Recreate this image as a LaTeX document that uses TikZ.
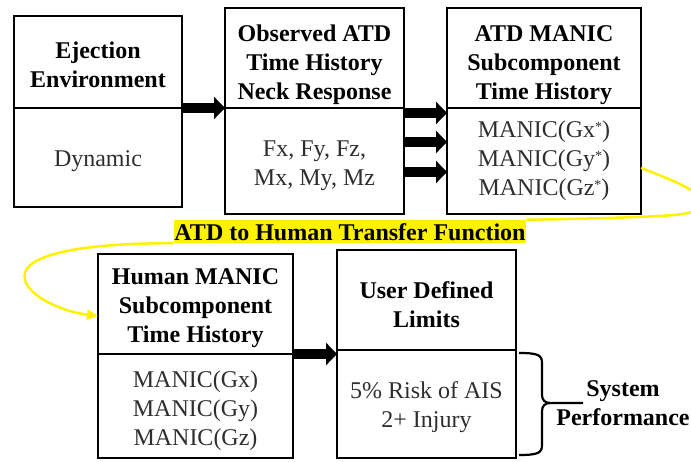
\documentclass[tikz,border=0pt]{standalone}
\usepackage{fontspec}
\setmainfont{Liberation Serif}
\usetikzlibrary{arrows.meta}
% small raised asterisk used in the ATD subcomponent names
\newcommand\starmark{\raisebox{6pt}{\fontsize{14}{14}\selectfont *}}
\begin{document}
\begin{tikzpicture}[x=1pt,y=-1pt,
  frame/.style={draw, line width=2.5pt, inner sep=0pt, outer sep=0pt},
  hd/.style={anchor=north, align=center, inner sep=0pt,
    font=\fontsize{24}{29}\selectfont\bfseries},
  bd/.style={anchor=north, align=center, inner sep=0pt, text=black!82,
    font=\fontsize{24}{29}\selectfont},
  fat/.style={line width=10pt, -{Triangle[width=22pt,length=11pt]}},
  ycurve/.style={draw=yellow, line width=2.5pt}]
\useasboundingbox (0,0) rectangle (691,462);
\clip (0,0) rectangle (691,462);

% ---- top row: section frames ----
\node[frame, minimum width=168pt, minimum height=92pt]  (ej-t)  at (98,62) {};
\node[frame, minimum width=168pt, minimum height=99pt]  (ej-b)  at (98,157.5) {};
\node[frame, minimum width=179pt, minimum height=100pt] (obs-t) at (314.5,58) {};
\node[frame, minimum width=179pt, minimum height=106pt] (obs-b) at (314.5,161) {};
\node[frame, minimum width=194pt, minimum height=100pt] (atd-t) at (544,58) {};
\node[frame, minimum width=194pt, minimum height=106pt] (atd-b) at (544,161) {};

% ---- bottom row: section frames ----
\node[frame, minimum width=195pt, minimum height=100pt] (hum-t) at (195.5,304) {};
\node[frame, minimum width=195pt, minimum height=104pt] (hum-b) at (195.5,406) {};
\node[frame, minimum width=179pt, minimum height=100pt] (lim-t) at (426.5,300) {};
\node[frame, minimum width=179pt, minimum height=108pt] (lim-b) at (426.5,404) {};

% ---- texts ----
\node[hd] (ej-tx)  at (98,41.5)    {Ejection\\Environment};
\node[bd] (ej-bx)  at (98,150.3)   {Dynamic};
\node[hd] (obs-tx) at (314.5,24.5) {Observed ATD\\Time History\\Neck Response};
\node[bd] (obs-bx) at (314.5,140.8) {Fx, Fy, Fz,\\Mx, My, Mz};
\node[hd] (atd-tx) at (544,25)     {ATD MANIC\\Subcomponent\\Time History};
\node[bd] (atd-bx) at (544,120.5)  {MANIC(Gx\starmark)\\MANIC(Gy\starmark)\\MANIC(Gz\starmark)};
\node[hd] (hum-tx) at (195.5,268.5) {Human MANIC\\Subcomponent\\Time History};
\node[bd] (hum-bx) at (195.5,370.5) {MANIC(Gx)\\MANIC(Gy)\\MANIC(Gz)};
\node[hd] (lim-tx) at (426.5,281.5) {User Defined\\Limits};
\node[bd] (lim-bx) at (426.5,381.5) {5\% Risk of AIS\\2+ Injury};

% ---- flow arrows ----
\draw[fat] (ej-b.north east) -- (obs-b.north west);
\foreach \d in {5,34,64}
  \draw[fat] ([yshift=-\d pt]obs-b.north east) -- ([yshift=-\d pt]atd-b.north west);
\draw[fat] (hum-b.north east) -- (lim-b.west |- hum-b.north east);

% ---- transfer function label and its loop ----
\node[fill=yellow, inner xsep=0.5pt, inner ysep=0pt, text height=21pt, text depth=2pt,
  font=\fontsize{24}{29}\selectfont\bfseries] (xfer) at (350,231.5)
  {ATD to Human Transfer Function};
\draw[ycurve] ([yshift=-7pt]atd-b.east)
  .. controls (700,190) and (740,212) .. (660,216)
  .. controls (620,218) and (570,219) .. (xfer.north east);
\draw[ycurve, -{Triangle[width=10pt,length=11pt]}] (xfer.south west)
  .. controls (80,243) and (18,255) .. (25,280)
  .. controls (30,298) and (65,312) .. ([yshift=-12pt]hum-t.west);

% ---- brace with system performance ----
\coordinate (br-top) at ([xshift=3pt,yshift=-3pt]lim-b.north east);
\coordinate (br-bot) at ([xshift=3pt,yshift=3pt]lim-b.south east);
\coordinate (br-tip) at (550,403);
\draw[line width=2.2pt] (br-top) .. controls (538,353) and (542,355) .. (542,363)
  -- (542,395) .. controls (542,400) and (545,403) .. (br-tip) -- (583,403);
\draw[line width=2.2pt] (br-bot) .. controls (538,455) and (542,453) .. (542,445)
  -- (542,411) .. controls (542,406) and (545,403) .. (br-tip);
\node[hd] (perf) at (623,380.5) {System\\Performance};
\end{tikzpicture}
\end{document}
